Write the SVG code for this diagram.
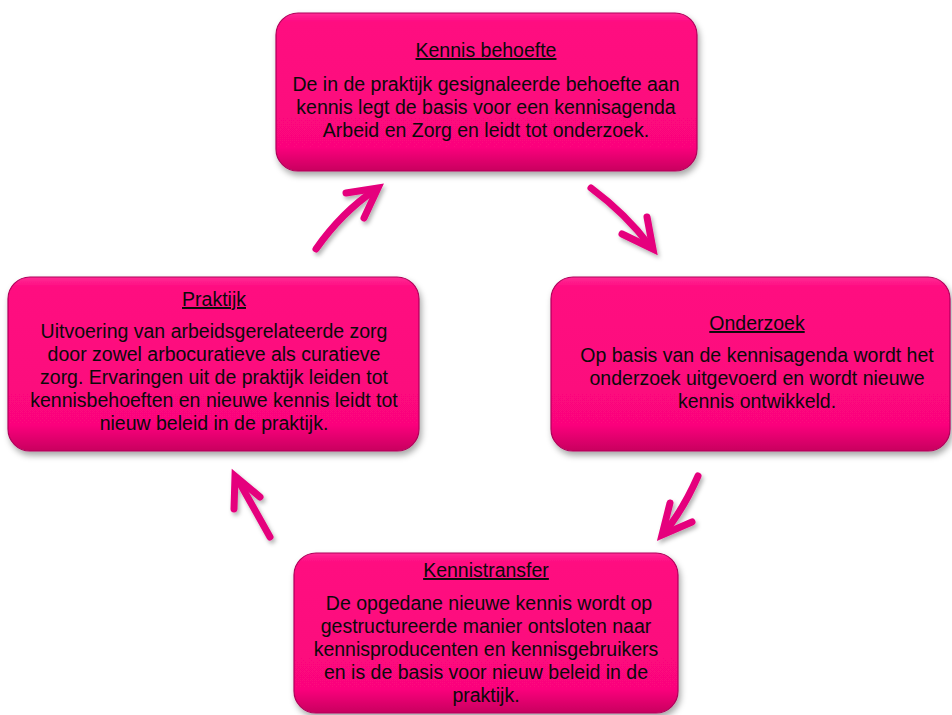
<svg xmlns="http://www.w3.org/2000/svg" width="952" height="715" viewBox="0 0 952 715">
<defs>
<linearGradient id="boxfill" x1="0" y1="0" x2="0" y2="1">
<stop offset="0" stop-color="#ff2b95"/>
<stop offset="0.06" stop-color="#ff0a80"/>
<stop offset="0.85" stop-color="#fb067c"/>
<stop offset="1" stop-color="#c8005f"/>
</linearGradient>
<filter id="shadow" x="-10%" y="-10%" width="120%" height="130%">
<feDropShadow dx="2" dy="4" stdDeviation="3" flood-color="#000" flood-opacity="0.35"/>
</filter>
<filter id="ashadow" x="-30%" y="-30%" width="160%" height="160%">
<feDropShadow dx="2" dy="3" stdDeviation="2" flood-color="#000" flood-opacity="0.3"/>
</filter>
</defs>
<style>
.box{fill:url(#boxfill);stroke:#b0005a;stroke-width:1.2;filter:url(#shadow)}
text{font-family:"Liberation Sans",Arial,sans-serif;font-size:19.5px;fill:#0a0a0a;text-anchor:middle}
.title{text-decoration:underline}
.arr{fill:none;stroke:#e5007d;stroke-width:7;stroke-linecap:round;stroke-linejoin:miter}
.arrows{filter:url(#ashadow)}
</style>
<rect width="952" height="715" fill="#fff"/>
<g id="connectors" class="arrows">
<path class="arr" d="M316,249 Q342,212 375,190"/>
<path class="arr" d="M346,193 L378,188 L364,218"/>
<path class="arr" d="M591,188 Q626,214 650,246"/>
<path class="arr" d="M622,234 L653,249 L647,217"/>
<path class="arr" d="M698,476 Q684,508 665,532"/>
<path class="arr" d="M670,503 L662,535 L692,522"/>
<path class="arr" d="M270,537 L238,480"/>
<path class="arr" d="M234,509 L235,476 L260,497"/>
</g>
<g id="kennis-behoefte">
<rect class="box" x="276" y="13" width="421" height="158" rx="22"/>
<text class="title" x="486" y="57">Kennis behoefte</text>
<text x="486" y="91">De in de praktijk gesignaleerde behoefte aan</text>
<text x="486" y="114">kennis legt de basis voor een kennisagenda</text>
<text x="486" y="137">Arbeid en Zorg en leidt tot onderzoek.</text>
</g>
<g id="onderzoek">
<rect class="box" x="551" y="277" width="399" height="174" rx="22"/>
<text class="title" x="757" y="330">Onderzoek</text>
<text x="757" y="362">Op basis van de kennisagenda wordt het</text>
<text x="757" y="385">onderzoek uitgevoerd en wordt nieuwe</text>
<text x="757" y="408">kennis ontwikkeld.</text>
</g>
<g id="praktijk">
<rect class="box" x="8" y="277" width="411" height="174" rx="22"/>
<text class="title" x="214" y="306">Praktijk</text>
<text x="214" y="338">Uitvoering van arbeidsgerelateerde zorg</text>
<text x="214" y="361">door zowel arbocuratieve als curatieve</text>
<text x="214" y="384">zorg. Ervaringen uit de praktijk leiden tot</text>
<text x="214" y="407">kennisbehoeften en nieuwe kennis leidt tot</text>
<text x="214" y="430">nieuw beleid in de praktijk.</text>
</g>
<g id="kennistransfer">
<rect class="box" x="294" y="553" width="384" height="160" rx="22"/>
<text class="title" x="486" y="577">Kennistransfer</text>
<text x="489" y="610">De opgedane nieuwe kennis wordt op</text>
<text x="486" y="633">gestructureerde manier ontsloten naar</text>
<text x="486" y="656">kennisproducenten en kennisgebruikers</text>
<text x="486" y="679">en is de basis voor nieuw beleid in de</text>
<text x="486" y="702">praktijk.</text>
</g>
</svg>
